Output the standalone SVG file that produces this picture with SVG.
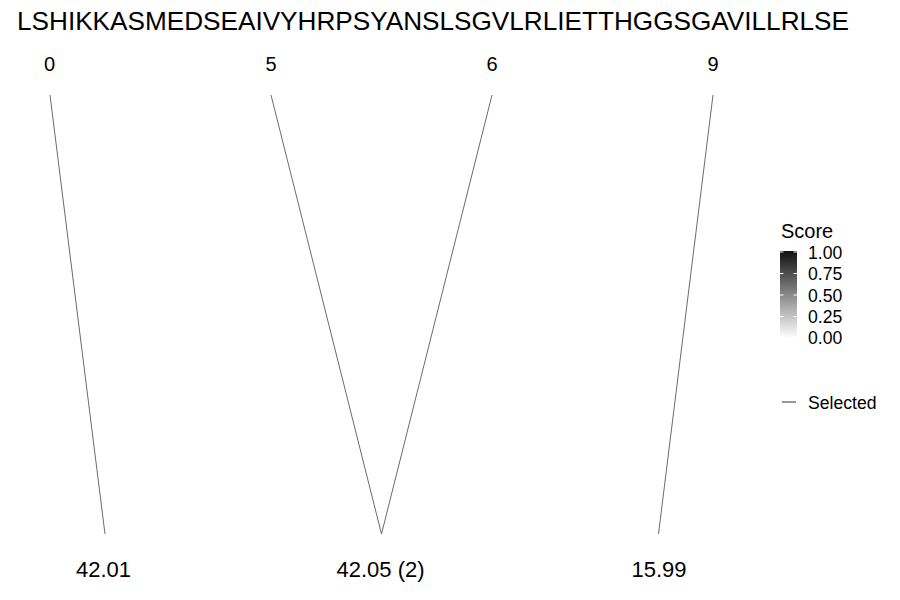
<svg xmlns="http://www.w3.org/2000/svg" width="900" height="600" viewBox="0 0 900 600">
<style>
text { font-family: "Liberation Sans", Arial, sans-serif; fill: #000; }
.seq { font-size: 26px; }
.num { font-size: 20px; text-anchor: middle; }
.val { font-size: 22px; text-anchor: middle; }
.lgt { font-size: 20px; }
.lgl { font-size: 17.6px; }
.conn { stroke: #6b6b6b; stroke-width: 1; fill: none; }
.tick { stroke: #fff; stroke-width: 1; }
</style>
<defs>
<linearGradient id="scoreGrad" x1="0" y1="1" x2="0" y2="0">
<stop offset="0" stop-color="#ffffff"/>
<stop offset="1" stop-color="#111111"/>
</linearGradient>
</defs>
<rect width="900" height="600" fill="#fff"/>
<text id="sequence" class="seq" x="17" y="30" textLength="832" lengthAdjust="spacingAndGlyphs">LSHIKKASMEDSEAIVYHRPSYANSLSGVLRLIETTHGGSGAVILLRLSE</text>
<g id="node-0"><text class="num" x="49.5" y="71">0</text></g>
<g id="node-5"><text class="num" x="271" y="71">5</text></g>
<g id="node-6"><text class="num" x="492" y="71">6</text></g>
<g id="node-9"><text class="num" x="713" y="71">9</text></g>
<g id="node-42-01"><text class="val" x="103.5" y="576.5">42.01</text></g>
<g id="node-42-05"><text class="val" x="380.5" y="576.5">42.05 (2)</text></g>
<g id="node-15-99"><text class="val" x="659" y="576.5">15.99</text></g>
<g id="connectors">
<line class="conn" x1="50" y1="95" x2="105" y2="534"/>
<line class="conn" x1="271" y1="95" x2="381.5" y2="534"/>
<line class="conn" x1="492" y1="95" x2="381.5" y2="534"/>
<line class="conn" x1="713" y1="95" x2="658.5" y2="534"/>
</g>
<g id="legend">
<text class="lgt" x="781" y="238">Score</text>
<rect x="780" y="251" width="17" height="87" fill="url(#scoreGrad)"/>
<g class="tick">
<line x1="780" y1="252" x2="783.4" y2="252"/><line x1="793.6" y1="252" x2="797" y2="252"/>
<line x1="780" y1="273.5" x2="783.4" y2="273.5"/><line x1="793.6" y1="273.5" x2="797" y2="273.5"/>
<line x1="780" y1="295" x2="783.4" y2="295"/><line x1="793.6" y1="295" x2="797" y2="295"/>
<line x1="780" y1="316.5" x2="783.4" y2="316.5"/><line x1="793.6" y1="316.5" x2="797" y2="316.5"/>
<line x1="780" y1="337" x2="783.4" y2="337"/><line x1="793.6" y1="337" x2="797" y2="337"/>
</g>
<text class="lgl" x="808" y="258.5">1.00</text>
<text class="lgl" x="808" y="280">0.75</text>
<text class="lgl" x="808" y="301.5">0.50</text>
<text class="lgl" x="808" y="323">0.25</text>
<text class="lgl" x="808" y="344">0.00</text>
<line x1="782" y1="402" x2="796" y2="402" stroke="#333" stroke-width="1"/>
<text class="lgl" x="808" y="408.5">Selected</text>
</g>
</svg>
